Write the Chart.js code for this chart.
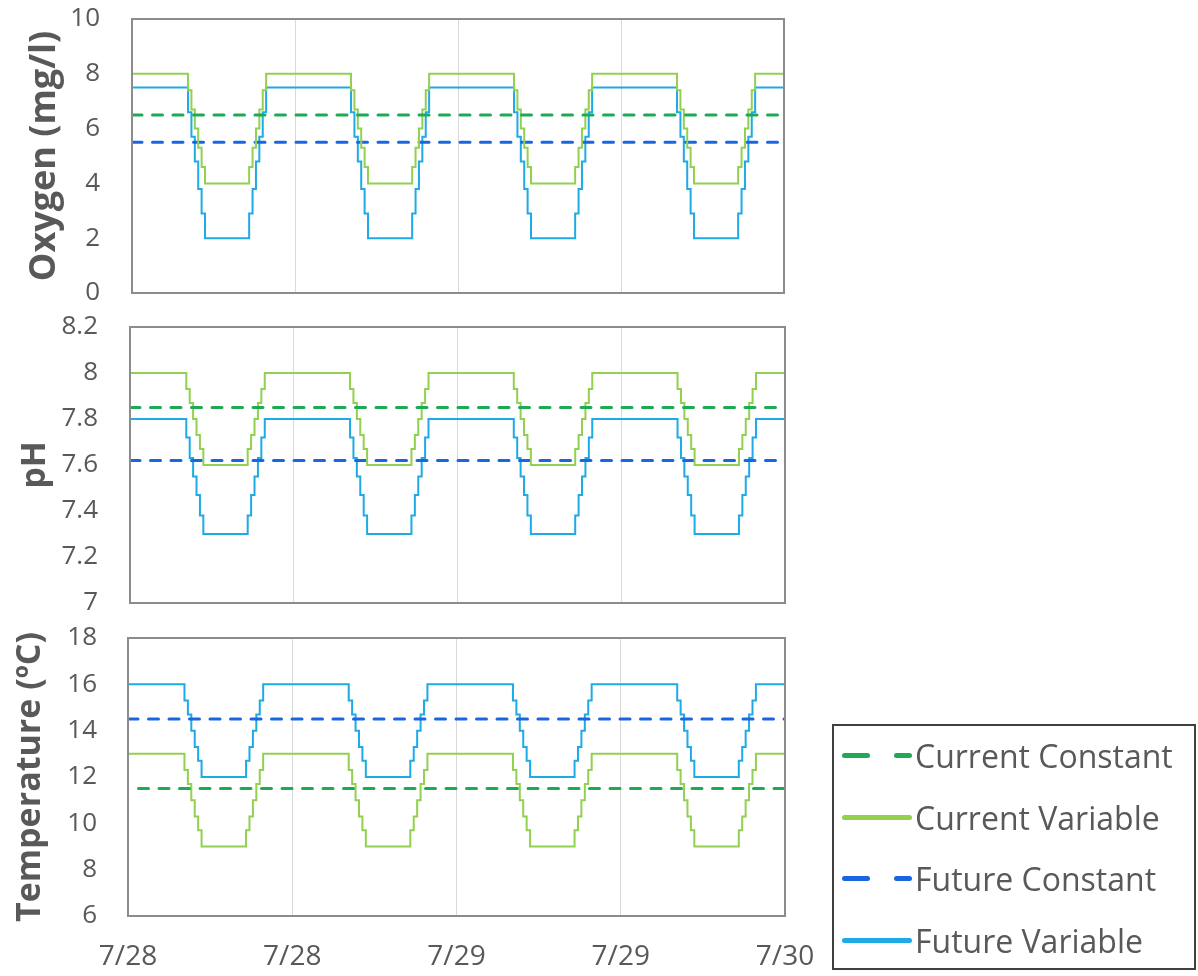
<!DOCTYPE html>
<html>
<head>
<meta charset="utf-8">
<title>Oxygen, pH and temperature treatments</title>
<script src="https://cdn.jsdelivr.net/npm/chart.js@4.4.1/dist/chart.umd.min.js"></script>
<style>
  body { margin: 0; background: #fff; width: 1198px; height: 976px; overflow: hidden; position: relative; font-family: 'Open Sans', sans-serif; }
  .panel { position: absolute; left: 0; }
  #legend { position: absolute; left: 832px; top: 724px; width: 364px; height: 246px; border: 2px solid #404040; box-sizing: border-box; }
  .row { position: absolute; left: 0; height: 44px; line-height: 44px; font-size: 32px; color: #595959; white-space: nowrap; }
  .row span.txt { position: absolute; left: 81px; top: 0; }
  .seg { position: absolute; top: 19px; height: 5px; border-radius: 3px; }
</style>
</head>
<body>

<div class="panel" style="top:0px"><canvas id="oxy" width="840" height="310"></canvas></div>
<div class="panel" style="top:310px"><canvas id="ph" width="840" height="310"></canvas></div>
<div class="panel" style="top:620px"><canvas id="temp" width="840" height="356"></canvas></div>

<div id="legend"></div>

<script>
// x axis: hours from the start of 7/28
var xLabels = ['7/28', '7/28', '7/29', '7/29', '7/30'];
var hours = [0, 4, 4.25, 4.5, 4.75, 5, 5.25, 5.5, 8.5, 8.75, 9, 9.25, 9.5, 9.75, 10,
             16, 16.25, 16.5, 16.75, 17, 17.25, 17.5, 20.5, 20.75, 21, 21.25, 21.5, 21.75, 22,
             28, 28.25, 28.5, 28.75, 29, 29.25, 29.5, 32.5, 32.75, 33, 33.25, 33.5, 33.75, 34,
             40, 40.25, 40.5, 40.75, 41, 41.25, 41.5, 44.5, 44.75, 45, 45.25, 45.5, 45.75, 46,
             48];
var constHours = [0, 48];

// Oxygen (mg/l)
var oxyCurrentConstant = [6.5, 6.5];
var oxyFutureConstant = [5.5, 5.5];
var oxyCurrentVariable = [8, 8, 7.4, 6.7, 6, 5.3, 4.6, 4, 4, 4.6, 5.3, 6, 6.7, 7.4, 8,
                          8, 7.4, 6.7, 6, 5.3, 4.6, 4, 4, 4.6, 5.3, 6, 6.7, 7.4, 8,
                          8, 7.4, 6.7, 6, 5.3, 4.6, 4, 4, 4.6, 5.3, 6, 6.7, 7.4, 8,
                          8, 7.4, 6.7, 6, 5.3, 4.6, 4, 4, 4.6, 5.3, 6, 6.7, 7.4, 8,
                          8];
var oxyFutureVariable = [7.5, 7.5, 6.6, 5.7, 4.8, 3.8, 2.9, 2, 2, 2.9, 3.8, 4.8, 5.7, 6.6, 7.5,
                         7.5, 6.6, 5.7, 4.8, 3.8, 2.9, 2, 2, 2.9, 3.8, 4.8, 5.7, 6.6, 7.5,
                         7.5, 6.6, 5.7, 4.8, 3.8, 2.9, 2, 2, 2.9, 3.8, 4.8, 5.7, 6.6, 7.5,
                         7.5, 6.6, 5.7, 4.8, 3.8, 2.9, 2, 2, 2.9, 3.8, 4.8, 5.7, 6.6, 7.5,
                         7.5];

// pH
var phCurrentConstant = [7.85, 7.85];
var phFutureConstant = [7.62, 7.62];
var phCurrentVariable = [8, 8, 7.93, 7.87, 7.8, 7.73, 7.67, 7.6, 7.6, 7.67, 7.73, 7.8, 7.87, 7.93, 8,
                         8, 7.93, 7.87, 7.8, 7.73, 7.67, 7.6, 7.6, 7.67, 7.73, 7.8, 7.87, 7.93, 8,
                         8, 7.93, 7.87, 7.8, 7.73, 7.67, 7.6, 7.6, 7.67, 7.73, 7.8, 7.87, 7.93, 8,
                         8, 7.93, 7.87, 7.8, 7.73, 7.67, 7.6, 7.6, 7.67, 7.73, 7.8, 7.87, 7.93, 8,
                         8];
var phFutureVariable = [7.8, 7.8, 7.72, 7.63, 7.55, 7.47, 7.38, 7.3, 7.3, 7.38, 7.47, 7.55, 7.63, 7.72, 7.8,
                        7.8, 7.72, 7.63, 7.55, 7.47, 7.38, 7.3, 7.3, 7.38, 7.47, 7.55, 7.63, 7.72, 7.8,
                        7.8, 7.72, 7.63, 7.55, 7.47, 7.38, 7.3, 7.3, 7.38, 7.47, 7.55, 7.63, 7.72, 7.8,
                        7.8, 7.72, 7.63, 7.55, 7.47, 7.38, 7.3, 7.3, 7.38, 7.47, 7.55, 7.63, 7.72, 7.8,
                        7.8];

// Temperature (ºC)
var tempCurrentConstant = [11.5, 11.5];
var tempFutureConstant = [14.5, 14.5];
var tempCurrentVariable = [13, 13, 12.3, 11.7, 11, 10.3, 9.7, 9, 9, 9.7, 10.3, 11, 11.7, 12.3, 13,
                           13, 12.3, 11.7, 11, 10.3, 9.7, 9, 9, 9.7, 10.3, 11, 11.7, 12.3, 13,
                           13, 12.3, 11.7, 11, 10.3, 9.7, 9, 9, 9.7, 10.3, 11, 11.7, 12.3, 13,
                           13, 12.3, 11.7, 11, 10.3, 9.7, 9, 9, 9.7, 10.3, 11, 11.7, 12.3, 13,
                           13];
var tempFutureVariable = [16, 16, 15.3, 14.7, 14, 13.3, 12.7, 12, 12, 12.7, 13.3, 14, 14.7, 15.3, 16,
                          16, 15.3, 14.7, 14, 13.3, 12.7, 12, 12, 12.7, 13.3, 14, 14.7, 15.3, 16,
                          16, 15.3, 14.7, 14, 13.3, 12.7, 12, 12, 12.7, 13.3, 14, 14.7, 15.3, 16,
                          16, 15.3, 14.7, 14, 13.3, 12.7, 12, 12, 12.7, 13.3, 14, 14.7, 15.3, 16,
                          16];

var seriesNames = ['Current Constant', 'Current Variable', 'Future Constant', 'Future Variable'];
var seriesColors = ['#1EAA55', '#92D050', '#1A66E0', '#1EAAE6'];
var textColor = '#595959';

function toPoints(xs, ys) {
    return ys.map(function(y, i) { return {x: xs[i], y: y}; });
}

// box round each plot area
var frame = {
    id: 'frame',
    afterDatasetsDraw: function(chart) {
        var a = chart.chartArea, c = chart.ctx;
        c.save();
        c.strokeStyle = '#8C8C8C';
        c.lineWidth = 2;
        c.strokeRect(a.left, a.top, a.right - a.left, a.bottom - a.top);
        c.restore();
    }
};

function panel(id, o) {
    var dashed = function(i, xs, ys, offset) {
        return { label: seriesNames[i], data: toPoints(xs, ys), borderColor: seriesColors[i],
                 borderWidth: 3, borderDash: [10, 10.5], borderDashOffset: offset || 0,
                 borderCapStyle: 'round', pointRadius: 0 };
    };
    var solid = function(i, xs, ys) {
        return { label: seriesNames[i], data: toPoints(xs, ys), borderColor: seriesColors[i],
                 borderWidth: 2, stepped: 'middle', pointRadius: 0 };
    };
    return new Chart(document.getElementById(id), {
        type: 'line',
        data: {
            datasets: [
                dashed(0, constHours, o.cc, o.ccOffset),
                solid(1, hours, o.cv),
                dashed(2, constHours, o.fc),
                solid(3, hours, o.fv)
            ]
        },
        options: {
            responsive: false,
            animation: false,
            layout: { padding: { top: o.padTop, bottom: o.padBottom, right: o.padRight, left: 0 } },
            plugins: { legend: { display: false }, tooltip: { enabled: false } },
            scales: {
                x: {
                    type: 'linear', min: 0, max: 48,
                    ticks: {
                        stepSize: 12, display: o.showX, padding: 24, color: textColor,
                        font: { family: 'Open Sans', size: 28 },
                        callback: function(v, i) { return xLabels[i]; }
                    },
                    grid: { color: '#D9D9D9', lineWidth: 1, drawTicks: false },
                    border: { display: false },
                    afterFit: function(s) {
                        s.height = o.xHeight;
                        s.paddingLeft = 0;
                        s.paddingRight = 0;
                    }
                },
                y: {
                    min: o.min, max: o.max,
                    ticks: {
                        stepSize: o.step, padding: o.tickPad, color: textColor,
                        font: { family: 'Open Sans', size: 26 },
                        callback: function(v) { return String(Math.round(v * 10) / 10); }
                    },
                    grid: { display: false, drawTicks: false },
                    border: { display: false },
                    title: {
                        display: true, text: o.title, color: textColor,
                        font: { family: 'Open Sans', size: o.titleSize, weight: 'bold' },
                        padding: { top: o.titlePad, bottom: 0 }
                    },
                    afterFit: function(s) {
                        s.width = o.plotLeft;
                        s.paddingTop = 0;
                        s.paddingBottom = 0;
                    }
                }
            }
        },
        plugins: [frame]
    });
}

panel('oxy', {
    cc: oxyCurrentConstant, cv: oxyCurrentVariable, fc: oxyFutureConstant, fv: oxyFutureVariable,
    min: 0, max: 10, step: 2, title: 'Oxygen (mg/l)', titleSize: 36, titlePad: 23,
    plotLeft: 132, padTop: 19, padBottom: 17, padRight: 56, xHeight: 0, showX: false, tickPad: 32
});
panel('ph', {
    cc: phCurrentConstant, cv: phCurrentVariable, fc: phFutureConstant, fv: phFutureVariable,
    min: 7, max: 8.2, step: 0.2, title: 'pH', titleSize: 34, titlePad: 15,
    plotLeft: 130, padTop: 17, padBottom: 17, padRight: 55, xHeight: 0, showX: false, tickPad: 32
});
panel('temp', {
    cc: tempCurrentConstant, cv: tempCurrentVariable, fc: tempFutureConstant, fv: tempFutureVariable,
    ccOffset: 10,
    min: 6, max: 18, step: 2, title: 'Temperature (ºC)', titleSize: 34, titlePad: 10,
    plotLeft: 128, padTop: 18, padBottom: 2, padRight: 55, xHeight: 58, showX: true, tickPad: 31
});

// legend box (bottom right)
var rowTops = [8, 70, 131, 193];
var legend = document.getElementById('legend');
seriesNames.forEach(function(name, i) {
    var row = document.createElement('div');
    row.className = 'row';
    row.style.top = rowTops[i] + 'px';
    row.style.width = '360px';
    var isDashed = (i % 2 === 0);
    var segs = isDashed ? [[8, 28], [60, 18]] : [[8, 70]];
    segs.forEach(function(s) {
        var d = document.createElement('div');
        d.className = 'seg';
        d.style.left = s[0] + 'px';
        d.style.width = s[1] + 'px';
        d.style.background = seriesColors[i];
        row.appendChild(d);
    });
    var t = document.createElement('span');
    t.className = 'txt';
    t.textContent = name;
    row.appendChild(t);
    legend.appendChild(row);
});
</script>
</body>
</html>
